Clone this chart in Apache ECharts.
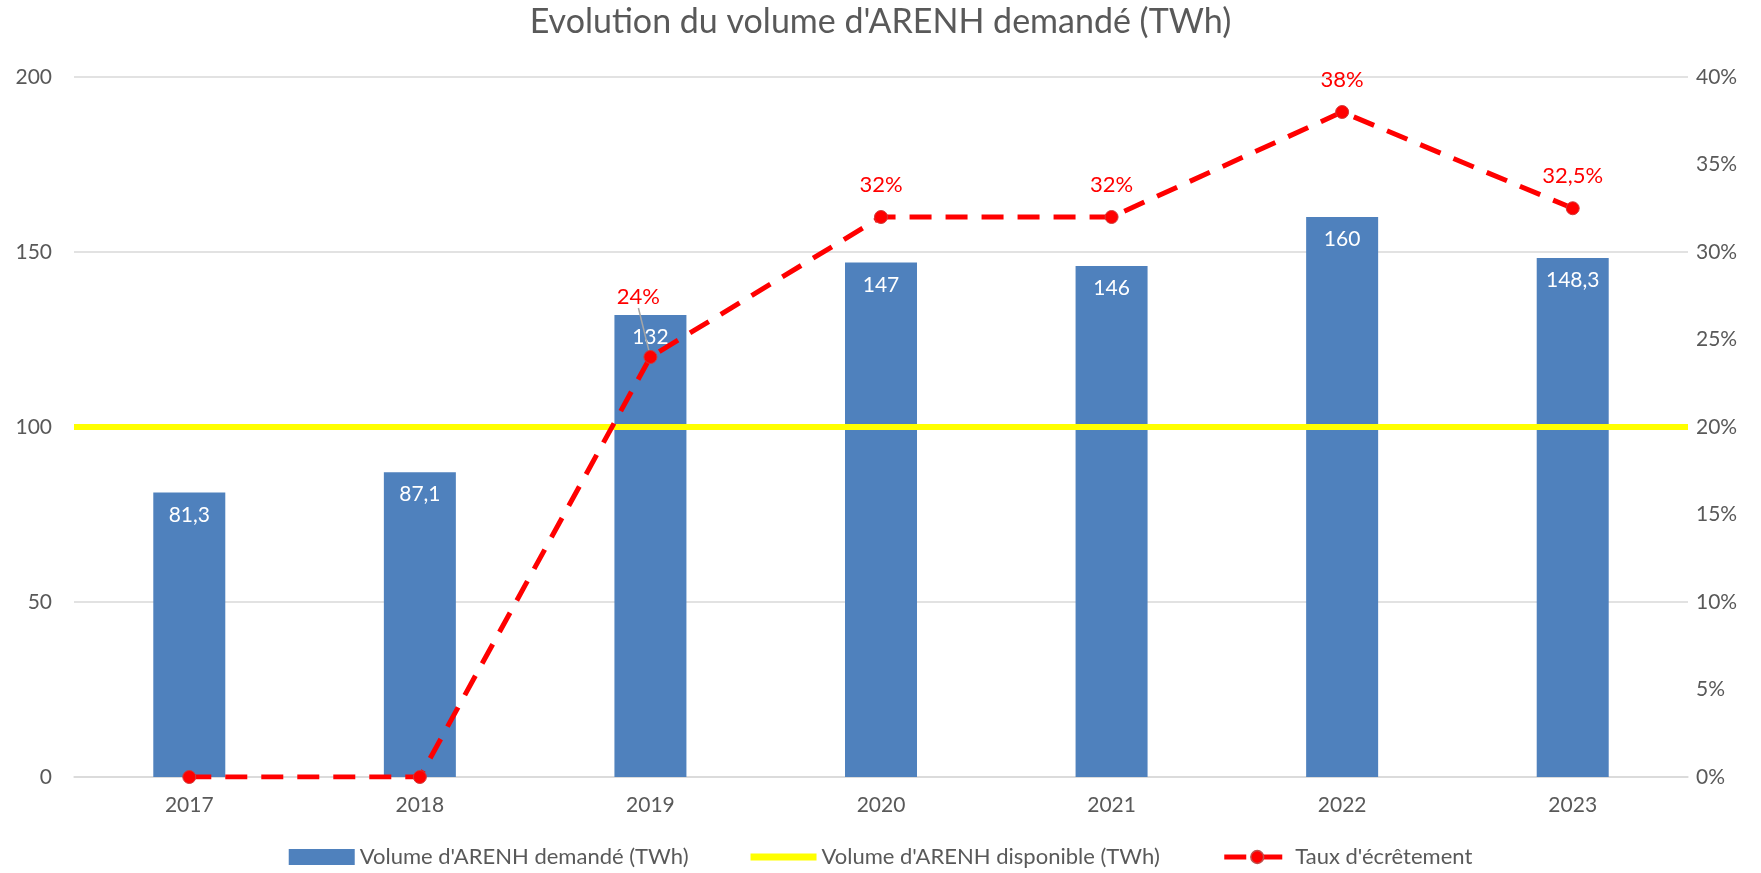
<!DOCTYPE html>
<html>
<head>
<meta charset="utf-8">
<script src="https://cdn.jsdelivr.net/npm/echarts@6/dist/echarts.min.js"></script>
<style>
  html, body { margin: 0; padding: 0; background: #fff; }
  #chart { width: 1761px; height: 873px; }
</style>
</head>
<body>
<div id="chart"></div>
<script>
// données
const years = ['2017', '2018', '2019', '2020', '2021', '2022', '2023'];
const volumeDemande = [81.3, 87.1, 132, 147, 146, 160, 148.3];
const volumeDisponible = [100, 100, 100, 100, 100, 100, 100];
const tauxEcretement = [0, 0, 0.24, 0.32, 0.32, 0.38, 0.325];

const FONT = 'Lato';
const TXT = '#595959';

function frNum(v) {
  return String(v).replace('.', ',');
}

const chart = echarts.init(document.getElementById('chart'));
chart.setOption({
  animation: false,
  textStyle: { fontFamily: FONT },
  title: {
    text: "Evolution du volume d'ARENH demandé (TWh)",
    left: 'center',
    top: 0,
    textStyle: { fontFamily: FONT, fontSize: 34, fontWeight: 'normal', color: TXT }
  },
  legend: {
    bottom: 0,
    itemGap: 62,
    itemWidth: 66,
    itemHeight: 16,
    textStyle: { fontFamily: FONT, fontSize: 22, color: TXT },
    data: [
      { name: "Volume d'ARENH demandé (TWh)", icon: 'rect' },
      { name: "Volume d'ARENH disponible (TWh)", icon: 'path://M0,0 L66,0 L66,7 L0,7 Z' },
      {
        name: "Taux d'écrêtement",
        lineStyle: { width: 5 },
        itemStyle: { color: '#FF0000', borderColor: '#C0504D', borderWidth: 1.5 }
      }
    ]
  },
  grid: { left: 74, right: 73, top: 77, bottom: 96 },
  xAxis: [{
    type: 'category',
    data: years,
    axisLine: { lineStyle: { color: '#d9d9d9', width: 1.5 } },
    axisTick: { show: false },
    axisLabel: { color: TXT, fontSize: 21, margin: 18 }
  }, {
    type: 'category',
    data: years,
    boundaryGap: false,
    show: false
  }],
  yAxis: [{
    type: 'value',
    min: 0,
    max: 200,
    interval: 50,
    axisLine: { show: false },
    axisTick: { show: false },
    splitLine: { lineStyle: { color: '#d9d9d9', width: 1.5 } },
    axisLabel: { color: TXT, fontSize: 21, margin: 22 }
  }, {
    type: 'value',
    min: 0,
    max: 0.4,
    interval: 0.05,
    axisLine: { show: false },
    axisTick: { show: false },
    splitLine: { show: false },
    axisLabel: {
      color: TXT,
      fontSize: 21,
      margin: 8,
      formatter: v => Math.round(v * 100) + '%'
    }
  }],
  series: [{
    name: "Volume d'ARENH demandé (TWh)",
    type: 'bar',
    data: volumeDemande,
    barWidth: 72,
    itemStyle: { color: '#4F81BD' },
    label: {
      show: true,
      position: 'insideTop',
      distance: 12,
      color: '#fff',
      fontSize: 21,
      formatter: p => frNum(p.value)
    },
    z: 2
  }, {
    name: "Volume d'ARENH disponible (TWh)",
    type: 'line',
    xAxisIndex: 1,
    data: volumeDisponible,
    symbol: 'none',
    lineStyle: { color: '#FFFF00', width: 6 },
    itemStyle: { color: '#FFFF00' },
    z: 3
  }, {
    name: "Taux d'écrêtement",
    type: 'line',
    yAxisIndex: 1,
    // seul le point 2019 a un trait de rappel vers son étiquette
    data: tauxEcretement.map((v, i) => ({ value: v, labelLine: { show: i === 2 } })),
    symbol: 'circle',
    symbolSize: 13,
    lineStyle: { color: '#FF0000', width: 5, type: [22, 14] },
    itemStyle: { color: '#FF0000', borderColor: '#D03A3A', borderWidth: 1 },
    label: {
      show: true,
      position: 'top',
      distance: 14,
      color: '#FF0000',
      fontSize: 22,
      formatter: p => p.value === 0 ? '' : frNum(+(p.value * 100).toFixed(1)) + '%'
    },
    labelLine: { show: false, lineStyle: { color: '#a6a6a6', width: 1.5 } },
    labelLayout: function (params) {
      if (params.dataIndex === 2) {
        return { dx: -12, dy: -28 };
      }
    },
    z: 4
  }]
});
</script>
</body>
</html>
